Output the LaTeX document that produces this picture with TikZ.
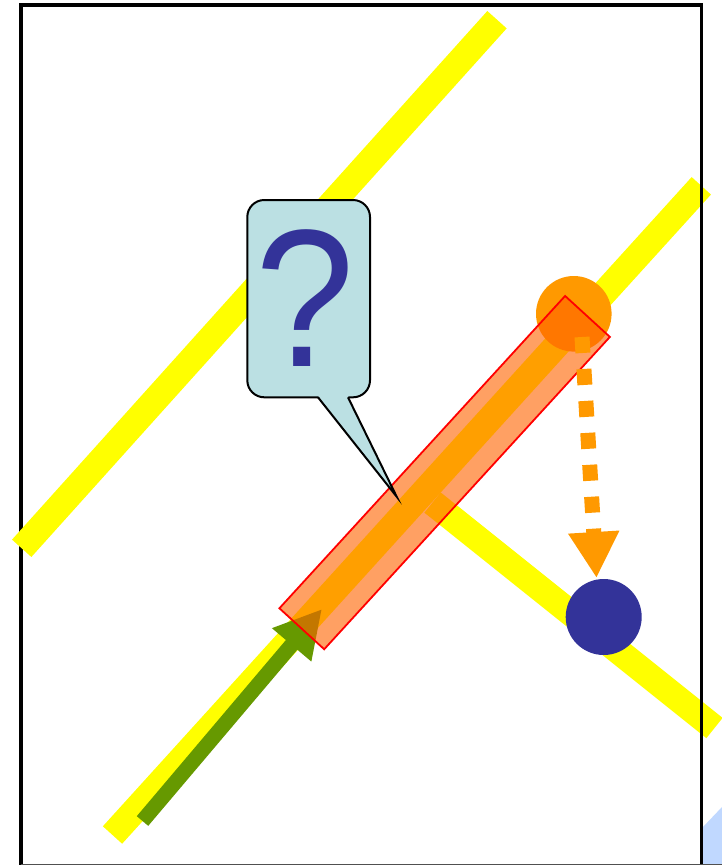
\documentclass[tikz,border=0pt]{standalone}
\usepackage{fontspec}
\setmainfont{Liberation Sans}
\usetikzlibrary{arrows.meta}
\definecolor{roadyellow}{RGB}{255,255,0}
\definecolor{ptorange}{RGB}{255,153,0}
\definecolor{ptblue}{RGB}{51,51,153}
\definecolor{arrowgreen}{RGB}{102,153,0}
\definecolor{bufferfill}{RGB}{255,99,0}
\definecolor{calloutfill}{RGB}{187,224,227}
\definecolor{cornerblue}{RGB}{192,216,255}
\definecolor{edgegray}{RGB}{80,80,80}
\tikzset{
  road/.style={draw=roadyellow, line width=26pt, line cap=butt},
  framestyle/.style={draw=black, line width=3.8pt, line join=miter},
  dot/.style={circle, inner sep=0pt, outer sep=0pt, minimum size=#1},
  bufferbox/.style={draw=red, line width=1.8pt, fill=bufferfill, fill opacity=0.61,
    inner sep=0pt, outer sep=0pt, minimum width=423.3pt, minimum height=60.7pt, rotate=47.55},
  greenarrow/.style={draw=arrowgreen, line width=15pt, -{Triangle[length=47pt,width=48pt]}},
  projarrow/.style={draw=ptorange, line width=15pt, dash pattern=on 16pt off 16pt,
    -{Triangle[length=46pt,width=48pt]}},
  calloutbox/.style={draw=black, line width=2pt, fill=calloutfill, rounded corners=17pt,
    inner sep=0pt, minimum width=122.7pt, minimum height=197.3pt},
  qstyle/.style={text=ptblue, inner sep=0pt, font=\fontsize{196}{200}\selectfont,
    transform shape, xscale=0.91}
}
\begin{document}
\begin{tikzpicture}[x=1pt,y=-1pt]
\useasboundingbox (0,0) rectangle (722,865);
% frame
\draw[framestyle] (21.3,866) -- (21.3,4.7) -- (701.5,4.7) -- (701.5,866);
% roads
\coordinate (r1a) at (21.7,548.3);
\coordinate (r1b) at (497,19.7);
\coordinate (r2a) at (112.5,835);
\coordinate (r2b) at (701.3,185.8);
\coordinate (r3a) at (432.5,502.5);
\coordinate (r3b) at (714.5,728);
\draw[road] (r1a) -- (r1b);
\draw[road] (r2a) -- (r2b);
\draw[road] (r3a) -- (r3b);
% corner shape
\fill[cornerblue] (702,828) -- (722,807) -- (722,865) -- (702,865) -- cycle;
\draw[framestyle] (701.5,4.7) -- (701.5,866);
\draw[edgegray, line width=1.5pt] (21.3,864.3) -- (722,864.3);
% points
\node[dot=75.6pt, fill=ptorange] (orng) at (573.8,313.8) {};
\node[dot=76pt, fill=ptblue] (blu) at (603.7,617) {};
% green arrow
\coordinate (gstart) at (142.5,821);
\coordinate (gend) at (322,609);
\draw[greenarrow] (gstart) -- (gend);
% buffer
\node[bufferbox] (buf) at (444.65,472.6) {};
% projection arrow
\coordinate (pstart) at (582,337);
\coordinate (pend) at (596.5,578);
\draw[projarrow] (pstart) -- (pend);
% callout
\node[calloutbox] (call) at (308.65,298.65) {};
\coordinate (ptip) at (396.7,496.7);
\fill[calloutfill] (318,395.8) -- (ptip) -- (348,395.8) -- cycle;
\draw[black, line width=2pt, line join=miter] (318,397.3) -- (ptip) -- (348,397.3);
\node[qstyle, anchor=base] (qmark) at (305.5,366.7) {?};
\end{tikzpicture}
\end{document}
